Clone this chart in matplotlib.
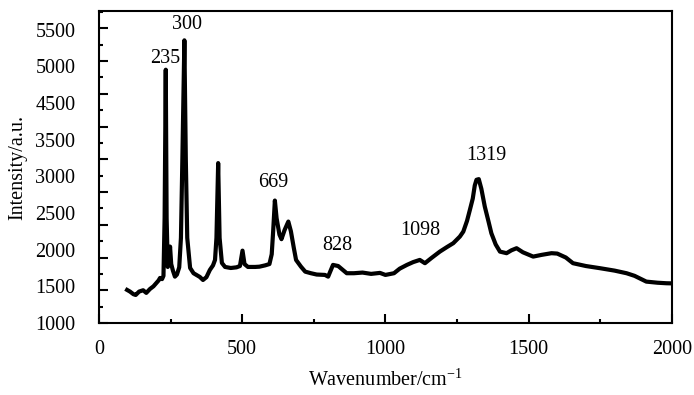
import numpy as np
import matplotlib.pyplot as plt
from matplotlib.ticker import MultipleLocator, FixedLocator, FixedFormatter

plt.rcParams['font.family'] = ['Liberation Serif', 'DejaVu Serif']
plt.rcParams['mathtext.fontset'] = 'stix'

# spectrum, ten points per line
wavenumber = [98, 108, 120, 128, 140, 154, 165, 178, 190, 200,
              208, 213, 220, 225, 229, 233, 236, 240, 244, 248,
              252, 258, 265, 272, 280, 286, 291, 298, 303, 308,
              318, 330, 352, 363, 375, 387, 398, 405, 410, 416,
              421, 429, 440, 460, 480, 492, 501, 508, 520, 545,
              560, 580, 595, 603, 608, 614, 620, 630, 637, 648,
              661, 670, 680, 688, 705, 720, 740, 760, 789, 800,
              817, 835, 865, 890, 920, 950, 981, 1000, 1030, 1050,
              1075, 1097, 1120, 1138, 1160, 1190, 1215, 1237, 1260, 1272,
              1285, 1295, 1305, 1312, 1318, 1326, 1335, 1347, 1360, 1370,
              1385, 1400, 1423, 1440, 1458, 1480, 1516, 1545, 1580, 1600,
              1630, 1655, 1700, 1749, 1800, 1842, 1870, 1911, 1950, 1981,
              2000]
intensity = [1505, 1480, 1440, 1428, 1480, 1500, 1460, 1520, 1560, 1610,
             1650, 1688, 1670, 1720, 2600, 4868, 2600, 1856, 1900, 2167,
             1900, 1800, 1708, 1740, 1850, 2300, 3500, 5317, 3500, 2300,
             1841, 1760, 1703, 1657, 1700, 1810, 1880, 1963, 2300, 3442,
             2300, 1917, 1856, 1840, 1850, 1870, 2105, 1900, 1856, 1856,
             1860, 1880, 1900, 2050, 2400, 2870, 2600, 2350, 2280, 2420,
             2549, 2400, 2150, 1963, 1861, 1784, 1760, 1740, 1734, 1708,
             1887, 1870, 1760, 1760, 1770, 1750, 1765, 1734, 1760, 1830,
             1887, 1930, 1963, 1913, 1990, 2090, 2160, 2219, 2320, 2396,
             2560, 2728, 2900, 3100, 3187, 3197, 3050, 2778, 2550, 2370,
             2200, 2090, 2066, 2110, 2142, 2080, 2014, 2040, 2066, 2060,
             2000, 1913, 1870, 1837, 1800, 1760, 1720, 1632, 1615, 1607,
             1605]

# the original's y tick labels (4000 is missing in the source figure)
ylabel_text = ['1000', '1500', '2000', '2500', '3000', '3500', '4500', '5000', '5500']

peak_labels = ['235', '300', '669', '828', '1098', '1319']
peak_x = [230, 307, 610, 832, 1122, 1354]
peak_y = [5037, 5556, 3145, 2177, 2411, 3553]

fig = plt.figure(figsize=(6.94, 3.95), dpi=100)
ax = fig.add_axes([0.1427, 0.1823, 0.8253, 0.7899])

ax.plot(wavenumber, intensity, color='black', lw=3.0, solid_joinstyle='round')

ax.set_xlim(0, 2000)
ax.set_ylim(1000, 5765)

ax.xaxis.set_major_locator(MultipleLocator(500))
ax.xaxis.set_minor_locator(MultipleLocator(250))
ax.yaxis.set_major_locator(MultipleLocator(500))
ax.yaxis.set_minor_locator(MultipleLocator(250))
ax.tick_params(which='major', direction='in', length=6.5, width=1.5,
               labelsize=14.5, top=False, right=False, pad=12)
ax.tick_params(which='minor', direction='in', length=3.2, width=1.5,
               top=False, right=False)
ax.tick_params(axis='y', which='major', labelleft=False)
for s in ax.spines.values():
    s.set_linewidth(1.5)

# labels sit on their own spacing, independent of tick marks
sec = ax.secondary_yaxis('left', functions=(lambda y: (y - 1000) / 560.0,
                                            lambda k: k * 560.0 + 1000))
sec.yaxis.set_major_locator(FixedLocator(range(len(ylabel_text))))
sec.yaxis.set_major_formatter(FixedFormatter(ylabel_text))
sec.tick_params(length=0, labelsize=14.5, pad=17)
sec.spines['left'].set_visible(False)

for lab, px, py in zip(peak_labels, peak_x, peak_y):
    ax.text(px, py, lab, ha='center', va='center', fontsize=14.5)

ax.set_xlabel('Wavenumber/cm$^{\\mathregular{-1}}$', fontsize=14.5, labelpad=8)
sec.set_ylabel('Intensity/a.u.', fontsize=14.5, labelpad=6)

fig.savefig('out.png', dpi=100)
